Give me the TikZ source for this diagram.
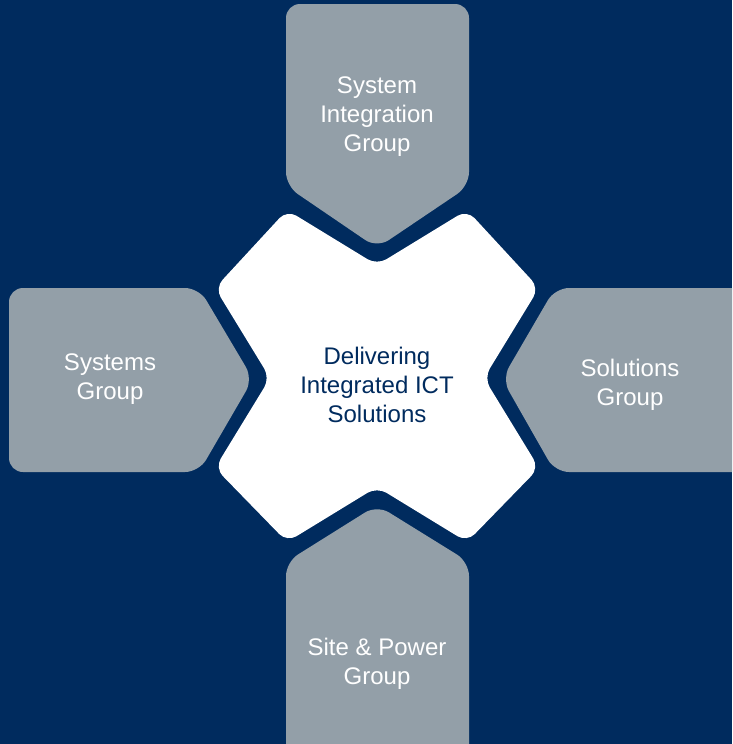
\documentclass[tikz,border=0pt]{standalone}
\usepackage{fontspec}
\setmainfont{Liberation Sans}
\definecolor{navy}{RGB}{0,43,94}
\definecolor{slate}{RGB}{147,159,168}
\begin{document}
\begin{tikzpicture}[x=1pt,y=-1pt,
  arrowshape/.style={fill=slate,rounded corners=14pt},
  crossshape/.style={fill=white,rounded corners=11pt},
  lbl/.style={font=\fontsize{24}{29}\selectfont,align=center,inner sep=0pt,text=white},
  centerlbl/.style={lbl,text=navy}]
\fill[navy] (0,0) rectangle (732,744);
\clip (0,0) rectangle (732,744);
% top arrow
\path[arrowshape] (286,4) -- (469,4) -- (469,186) -- (377,248) -- (286,186) -- cycle;
% bottom arrow
\path[arrowshape] (377,505) -- (469,562) -- (469,770) -- (286,770) -- (286,562) -- cycle;
% left arrow
\path[arrowshape] (9,288) -- (199,288) -- (253,379) -- (199,472) -- (9,472) -- cycle;
% right arrow
\path[arrowshape] (502,379) -- (555,288) -- (760,288) -- (760,472) -- (555,472) -- cycle;
% central cross
\path[crossshape] (377,265) -- (467,210) -- (539,288) -- (484,378) -- (539,468)
  -- (467,542) -- (377,487) -- (287,542) -- (215,468) -- (270,378) -- (215,288)
  -- (287,210) -- cycle;
\node[lbl] (sig) at (377,117) {System\\Integration\\Group};
\node[lbl] (sys) at (110,379) {Systems\\Group};
\node[lbl] (sol) at (630,385) {Solutions\\Group};
\node[lbl] (spg) at (377,664) {Site \& Power\\Group};
\node[centerlbl] (ctr) at (377,385) {Delivering\\Integrated ICT\\Solutions};
\end{tikzpicture}
\end{document}
